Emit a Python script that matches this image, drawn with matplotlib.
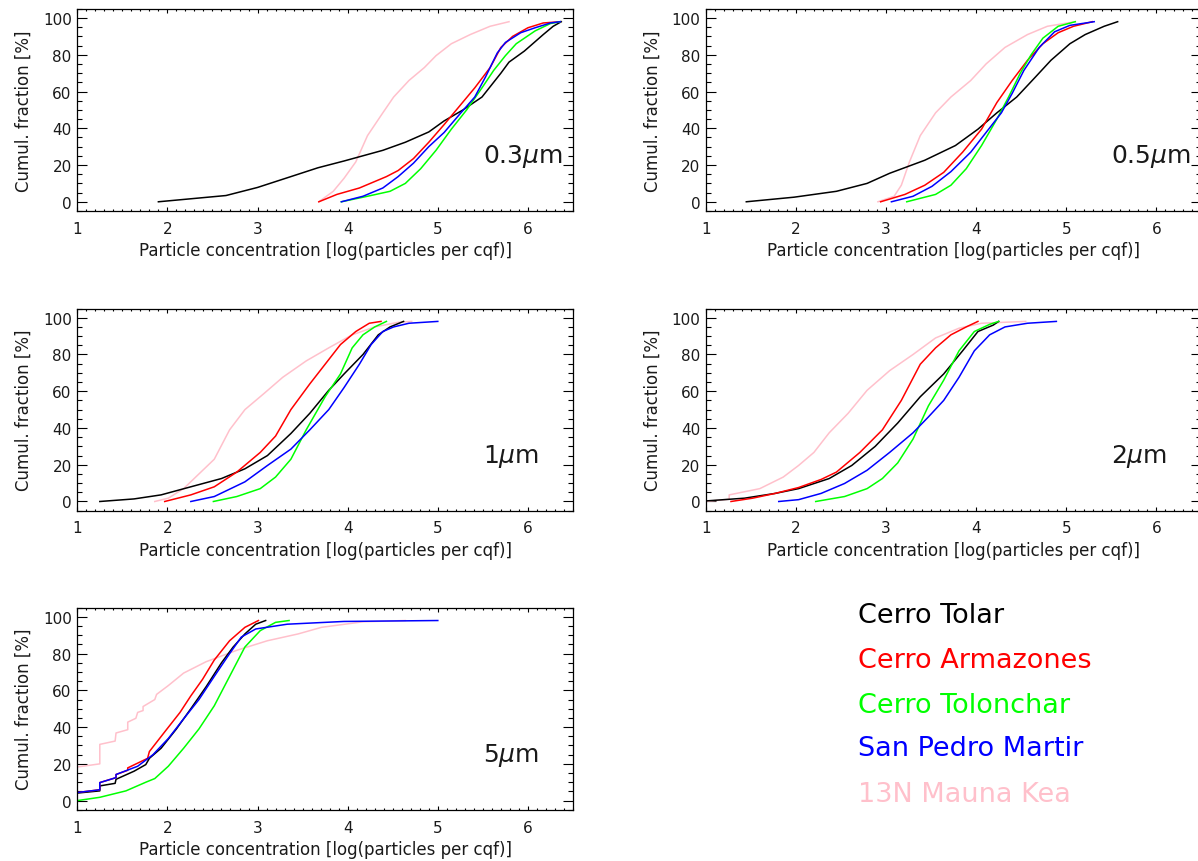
import matplotlib
matplotlib.use("Agg")
from matplotlib import pyplot as plt
from matplotlib.ticker import MultipleLocator

# Data: cumulative fraction curves, (log concentration, percent)
site_names = ["Cerro Tolar", "Cerro Armazones", "Cerro Tolonchar", "San Pedro Martir", "13N Mauna Kea"]
site_colors = ["black", "#ff0000", "#00ff00", "#0000ff", "#ffc0cb"]
size_labels = ["0.3", "0.5", "1", "2", "5"]

# 0.3 micron
tolar_03 = [(1.90, 0), (2.65, 3.4), (3.0, 7.8), (3.37, 13.7), (3.67, 18.5), (3.96, 22.2), (4.39, 28), (4.64, 32.4),
            (4.90, 38), (5.07, 44), (5.28, 50), (5.49, 57), (5.70, 70), (5.79, 76), (5.96, 82), (6.17, 91),
            (6.28, 95.5), (6.37, 98)]
armaz_03 = [(3.68, 0), (3.88, 4), (4.13, 7.5), (4.43, 13.7), (4.56, 17), (4.73, 23.5), (4.90, 32.4), (5.07, 42),
            (5.24, 52), (5.41, 62), (5.58, 73), (5.70, 84), (5.83, 90), (6.0, 94.7), (6.17, 97.3), (6.36, 98)]
tolon_03 = [(3.93, 0), (4.22, 3), (4.47, 5.7), (4.64, 10), (4.81, 18), (4.98, 28), (5.15, 39.5), (5.32, 50),
            (5.49, 62), (5.62, 71.5), (5.75, 79.5), (5.87, 86), (6.08, 93), (6.25, 97), (6.36, 98)]
spm_03 = [(3.93, 0), (4.17, 3), (4.39, 7.5), (4.56, 13.7), (4.73, 21), (4.90, 30), (5.07, 37.7), (5.24, 47.5),
          (5.41, 57), (5.53, 68), (5.66, 81), (5.75, 86.7), (5.92, 92), (6.08, 94.7), (6.25, 97.3), (6.36, 98)]
mk_03 = [(3.68, 0), (3.84, 5.7), (3.96, 12.8), (4.09, 21.7), (4.22, 36), (4.39, 48.4), (4.51, 57), (4.68, 66),
         (4.85, 73), (4.98, 79.5), (5.15, 86), (5.36, 91), (5.58, 95.5), (5.79, 98)]

# 0.5 micron
tolar_05 = [(1.45, 0), (1.98, 2.5), (2.45, 5.7), (2.79, 10), (3.04, 15.5), (3.43, 22.6), (3.77, 30.6), (4.02, 39.5),
            (4.23, 48.4), (4.45, 57), (4.66, 68), (4.83, 77), (5.04, 86), (5.21, 91), (5.42, 95.5), (5.57, 98)]
armaz_05 = [(2.94, 0), (3.21, 4), (3.43, 9), (3.64, 16), (3.85, 27), (4.06, 39.5), (4.23, 54), (4.40, 66),
            (4.57, 77), (4.74, 86), (4.91, 92), (5.08, 95.5), (5.29, 98)]
tolon_05 = [(3.23, 0), (3.55, 4), (3.72, 9), (3.89, 18), (4.06, 30.6), (4.23, 45), (4.36, 57), (4.49, 70),
            (4.61, 80), (4.74, 89), (4.91, 95.5), (5.10, 98)]
spm_05 = [(3.06, 0), (3.30, 3), (3.51, 8.4), (3.72, 16.4), (3.94, 27), (4.11, 37.7), (4.28, 48.4), (4.40, 59),
          (4.53, 71.5), (4.70, 84), (4.87, 92.5), (5.04, 96), (5.31, 98)]
mk_05 = [(2.91, 0), (3.09, 3), (3.17, 9), (3.26, 21.7), (3.38, 36), (3.55, 48.4), (3.72, 57), (3.94, 66),
         (4.11, 75), (4.32, 84), (4.57, 91), (4.79, 95.5), (5.10, 98)]

# 1 micron
tolar_1 = [(1.25, 0), (1.63, 1.4), (1.93, 3.6), (2.26, 8), (2.60, 12.5), (2.86, 17.8), (3.11, 25), (3.37, 37),
           (3.58, 48), (3.79, 60.5), (3.96, 69.4), (4.17, 80), (4.34, 90.7), (4.47, 95), (4.62, 98)]
armaz_1 = [(1.97, 0), (2.26, 3.6), (2.52, 8), (2.77, 16), (3.03, 26.7), (3.20, 35.6), (3.37, 50), (3.58, 64),
           (3.75, 74.7), (3.92, 85.4), (4.09, 92.5), (4.24, 97), (4.37, 98)]
tolon_1 = [(2.51, 0), (2.77, 2.7), (3.03, 7), (3.20, 13.3), (3.37, 23), (3.54, 39), (3.75, 57), (3.92, 69.4),
           (4.05, 83.6), (4.17, 90.7), (4.30, 95), (4.43, 98)]
spm_1 = [(2.26, 0), (2.52, 2.7), (2.86, 10.7), (3.11, 19.6), (3.37, 28.5), (3.58, 39), (3.79, 50), (3.96, 62),
         (4.13, 74.7), (4.26, 85.4), (4.39, 92.5), (4.51, 95), (4.68, 97), (5.0, 98)]
mk_1 = [(1.86, 0), (2.01, 1.8), (2.18, 7), (2.35, 15), (2.52, 23), (2.69, 39), (2.86, 50), (3.07, 58.7),
        (3.28, 67.6), (3.54, 76.5), (3.79, 83.6), (4.05, 90.7), (4.30, 95), (4.56, 97.5), (4.71, 98)]

# 2 micron
tolar_2 = [(1.0, 0.3), (1.43, 1.8), (1.77, 4.4), (2.03, 7), (2.37, 12.5), (2.62, 19.6), (2.88, 30), (3.13, 42.7),
           (3.38, 57), (3.64, 69.4), (3.85, 82), (4.02, 92.5), (4.19, 96), (4.25, 98)]
armaz_2 = [(1.28, 0), (1.52, 1.8), (1.77, 4.4), (2.03, 7.6), (2.28, 12), (2.45, 16), (2.71, 26.7), (2.96, 39),
           (3.17, 55), (3.38, 74.7), (3.55, 83.6), (3.72, 90.7), (3.89, 95), (4.02, 98)]
tolon_2 = [(2.22, 0), (2.54, 2.7), (2.79, 7), (2.96, 12.5), (3.13, 21), (3.30, 34), (3.47, 52), (3.64, 66),
           (3.81, 82), (3.98, 92.5), (4.15, 96.4), (4.25, 98)]
spm_2 = [(1.81, 0), (2.03, 1), (2.28, 4.4), (2.54, 9.8), (2.79, 17), (3.04, 26.7), (3.30, 37.4), (3.47, 46),
         (3.64, 55), (3.81, 67.6), (3.98, 82), (4.15, 90.7), (4.32, 95), (4.57, 97), (4.89, 98)]
mk_2 = [(1.0, 0), (1.26, 1.2), (1.26, 3.6), (1.6, 7), (1.86, 13.3), (2.03, 19.6), (2.20, 26.7), (2.37, 37.4),
        (2.58, 48), (2.79, 60.5), (3.04, 71.2), (3.30, 80), (3.55, 89), (3.81, 94.3), (4.06, 97), (4.55, 98)]

# 5 micron
tolar_5 = [(1.0, 4.1), (1.25, 5.3), (1.25, 8), (1.42, 9.4), (1.43, 11.6), (1.63, 16), (1.76, 19.6), (1.80, 23),
           (1.93, 28.5), (2.10, 39), (2.26, 50), (2.43, 62), (2.60, 75), (2.73, 83.6), (2.86, 90.7), (2.98, 96),
           (3.09, 98)]
armaz_5 = [(1.0, 4.4), (1.25, 5.9), (1.25, 9.8), (1.43, 12.5), (1.43, 14.2), (1.56, 16.5), (1.56, 17.8),
           (1.78, 23), (1.80, 26.7), (1.97, 37.4), (2.14, 48), (2.26, 57), (2.39, 66), (2.52, 76.5), (2.69, 87),
           (2.86, 94.3), (3.01, 98)]
tolon_5 = [(1.0, 0), (1.25, 1.8), (1.54, 5.3), (1.76, 10), (1.86, 12), (2.01, 18.7), (2.18, 28.5), (2.35, 39),
           (2.52, 51.6), (2.69, 67.6), (2.86, 83.6), (3.03, 92.5), (3.20, 97), (3.35, 98)]
spm_5 = [(1.0, 4.4), (1.25, 5.9), (1.25, 9.8), (1.43, 12.5), (1.43, 14.2), (1.67, 18.7), (1.84, 25), (2.01, 33.8),
         (2.18, 44.5), (2.35, 55), (2.52, 67.6), (2.69, 80), (2.82, 89), (2.98, 93.4), (3.33, 96), (3.96, 97.5),
         (5.0, 98)]
mk_5 = [(1.0, 18.3), (1.25, 20), (1.25, 30.6), (1.42, 32.4), (1.43, 36.8), (1.56, 38.6), (1.56, 42.7),
        (1.65, 44.8), (1.67, 48), (1.73, 49), (1.73, 51.2), (1.86, 55), (1.88, 57.8), (2.01, 62.6), (2.18, 69.4),
        (2.43, 75.6), (2.77, 81.8), (3.11, 87), (3.45, 90.7), (3.71, 94.3), (4.17, 97.3), (4.64, 98)]

panels = [
    [tolar_03, armaz_03, tolon_03, spm_03, mk_03],
    [tolar_05, armaz_05, tolon_05, spm_05, mk_05],
    [tolar_1, armaz_1, tolon_1, spm_1, mk_1],
    [tolar_2, armaz_2, tolon_2, spm_2, mk_2],
    [tolar_5, armaz_5, tolon_5, spm_5, mk_5],
]

plt.rcParams["font.family"] = "DejaVu Sans"
plt.rcParams["mathtext.fontset"] = "dejavusans"

fig = plt.figure(figsize=(11.98, 8.62), dpi=100)

# axes boxes in figure fraction (left, bottom, width, height)
col_left = [0.0645, 0.5891]
row_bottom = [0.7541, 0.4064, 0.0594]
ax_w, ax_h = 0.4138, 0.2345
txt_col = "#1a1a1a"

for i, curves in enumerate(panels):
    ax = fig.add_axes([col_left[i % 2], row_bottom[i // 2], ax_w, ax_h])
    # plot Mauna Kea first so the others sit on top
    for j in [4, 0, 1, 2, 3]:
        xs = [p[0] for p in curves[j]]
        ys = [p[1] for p in curves[j]]
        ax.plot(xs, ys, color=site_colors[j], lw=1.1)
    ax.set_xlim(1, 6.5)
    ax.set_ylim(-5, 105)
    ax.set_xticks([1, 2, 3, 4, 5, 6])
    ax.set_yticks([0, 20, 40, 60, 80, 100])
    ax.xaxis.set_minor_locator(MultipleLocator(0.1))
    ax.yaxis.set_minor_locator(MultipleLocator(5))
    ax.tick_params(axis="x", which="major", direction="in", length=3, width=0.8, top=True, pad=7,
                   labelsize=11, labelcolor=txt_col)
    ax.tick_params(axis="x", which="minor", direction="in", length=1.5, width=0.8, top=True)
    ax.tick_params(axis="y", which="major", direction="in", length=7.2, width=0.8, right=True, pad=4,
                   labelsize=11, labelcolor=txt_col)
    ax.tick_params(axis="y", which="minor", direction="in", length=3.6, width=0.8, right=True)
    for s in ax.spines.values():
        s.set_linewidth(0.9)
    ax.set_xlabel("Particle concentration [log(particles per cqf)]", fontsize=12, labelpad=4, color=txt_col)
    ax.set_ylabel("Cumul. fraction [%]", fontsize=12, labelpad=7, color=txt_col)
    ax.text(5.5, 25, size_labels[i] + r"$\mu$m", fontsize=18, ha="left", va="center", color=txt_col)

# site names in the empty bottom-right slot
legend_y = [0.2854, 0.2332, 0.181, 0.131, 0.0777]
for name, col, yy in zip(site_names, site_colors, legend_y):
    fig.text(0.716, yy, name, color=col, fontsize=19.5, ha="left", va="center")

plt.savefig("out.png", dpi=100)
